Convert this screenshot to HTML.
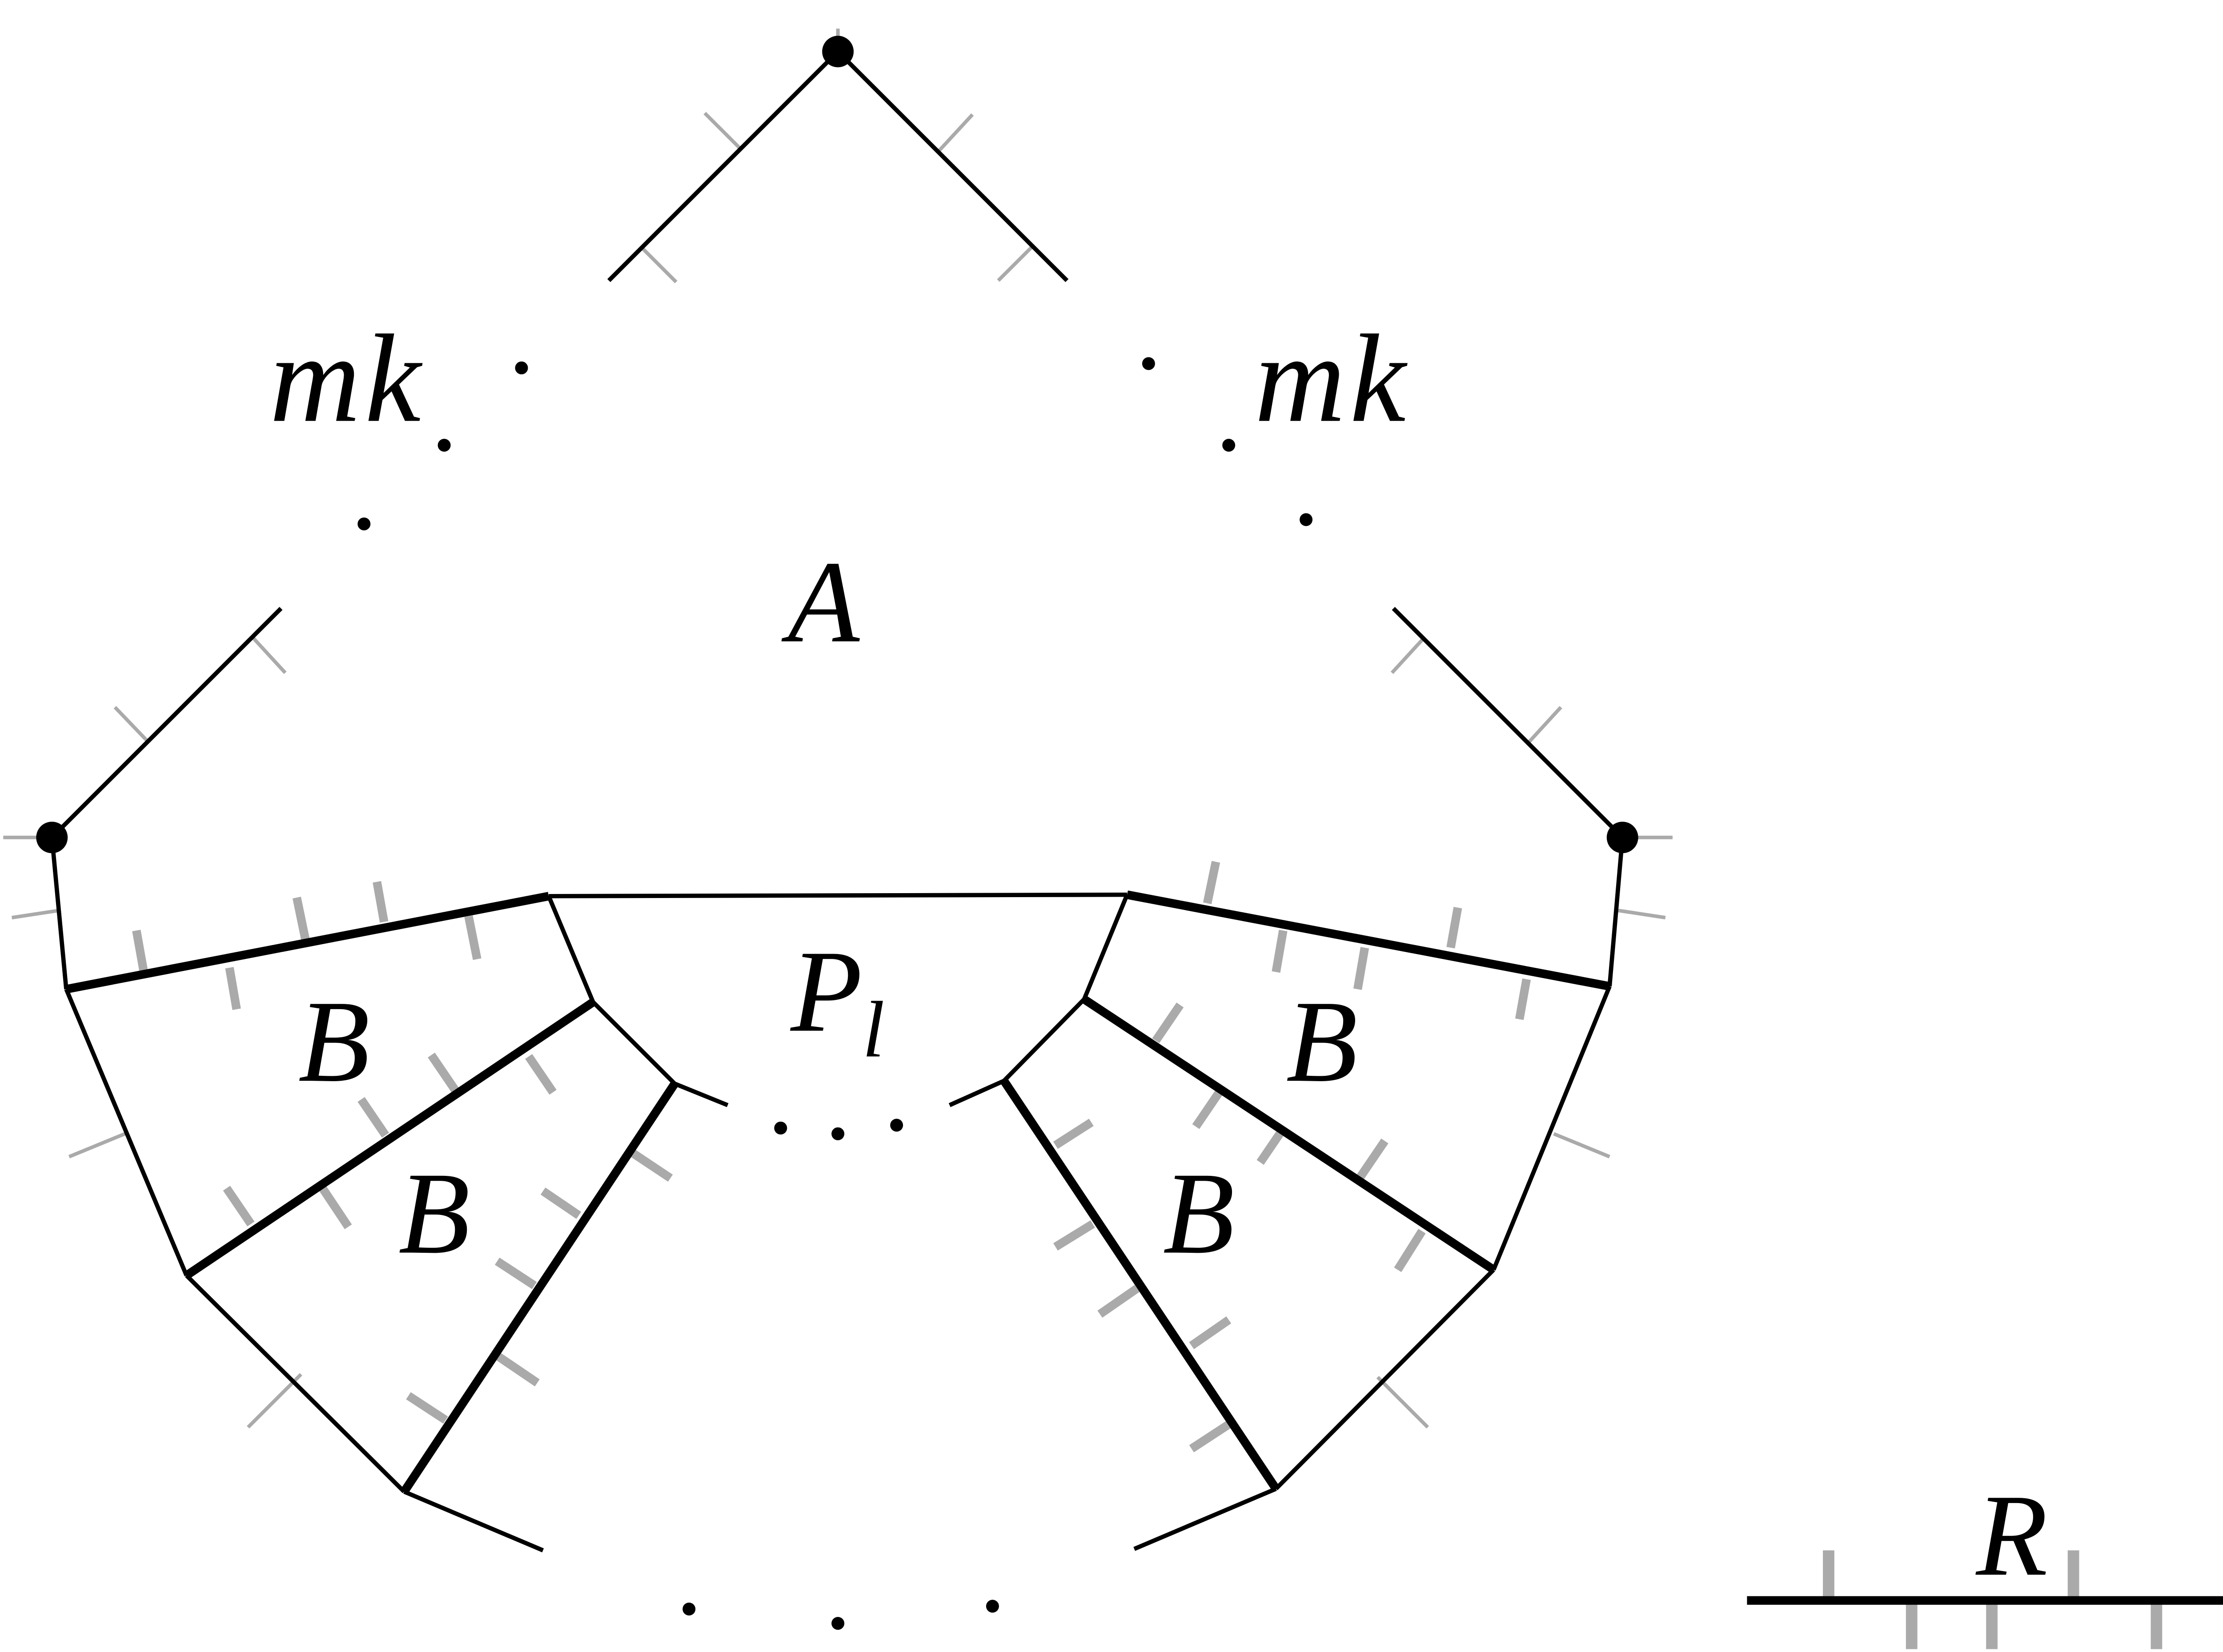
<!DOCTYPE html>
<html><head><meta charset="utf-8"><style>
html,body{margin:0;padding:0;background:#fff;}
svg{display:block;}
text{font-family:"Liberation Serif",serif;font-style:italic;fill:#000;}
</style></head><body>
<svg width="5038" height="3716" viewBox="0 0 1564 1154" xmlns="http://www.w3.org/2000/svg">
<g stroke="#aaa" stroke-width="2.5" fill="none">
<line x1="585" y1="20" x2="585" y2="36"/>
<line x1="517" y1="104" x2="492" y2="79"/>
<line x1="448" y1="173" x2="472" y2="197"/>
<line x1="655" y1="106" x2="679" y2="80"/>
<line x1="721" y1="172" x2="697" y2="196"/>
<line x1="176" y1="445" x2="199" y2="470"/>
<line x1="103" y1="518" x2="80" y2="494"/>
<line x1="994" y1="446" x2="972" y2="470"/>
<line x1="1068" y1="518" x2="1090" y2="494"/>
<line x1="2" y1="585" x2="36" y2="585"/>
<line x1="1133" y1="585" x2="1168" y2="585"/>
<line x1="8" y1="641" x2="41" y2="636"/>
<line x1="1130" y1="636" x2="1163" y2="641"/>
<line x1="48" y1="808" x2="87" y2="792"/>
<line x1="1085" y1="792" x2="1124" y2="808"/>
<line x1="173" y1="997" x2="210" y2="960"/>
<line x1="997" y1="997" x2="962" y2="962"/>
</g>
<g stroke="#aaa" stroke-width="6" fill="none">
<line x1="95" y1="650" x2="100" y2="678"/>
<line x1="160" y1="676" x2="165" y2="705"/>
<line x1="207" y1="627" x2="213" y2="656"/>
<line x1="263" y1="616" x2="268" y2="644"/>
<line x1="327" y1="640" x2="333" y2="670"/>
<line x1="849" y1="602" x2="843" y2="631"/>
<line x1="896" y1="650" x2="891" y2="679"/>
<line x1="1018" y1="634" x2="1013" y2="662"/>
<line x1="953" y1="662" x2="948" y2="691"/>
<line x1="1066" y1="684" x2="1061" y2="712"/>
<line x1="301" y1="737" x2="318" y2="762"/>
<line x1="369" y1="738" x2="386" y2="763"/>
<line x1="252" y1="768" x2="269" y2="793"/>
<line x1="225" y1="830" x2="243" y2="857"/>
<line x1="158" y1="830" x2="175" y2="855"/>
<line x1="379" y1="832" x2="404" y2="849"/>
<line x1="441" y1="805" x2="468" y2="823"/>
<line x1="347" y1="881" x2="373" y2="898"/>
<line x1="347" y1="947" x2="375" y2="966"/>
<line x1="285" y1="975" x2="311" y2="992"/>
<line x1="807" y1="727" x2="824" y2="702"/>
<line x1="835" y1="787" x2="852" y2="762"/>
<line x1="880" y1="812" x2="897" y2="787"/>
<line x1="950" y1="822" x2="967" y2="797"/>
<line x1="976" y1="887" x2="993" y2="860"/>
<line x1="737" y1="800" x2="762" y2="784"/>
<line x1="737" y1="871" x2="763" y2="855"/>
<line x1="768" y1="918" x2="794" y2="900"/>
<line x1="832" y1="940" x2="858" y2="922"/>
<line x1="832" y1="1012" x2="858" y2="995"/>
<line x1="1277" y1="1083" x2="1277" y2="1118" stroke-width="8"/>
<line x1="1448" y1="1083" x2="1448" y2="1118" stroke-width="8"/>
<line x1="1335" y1="1118" x2="1335" y2="1152" stroke-width="8"/>
<line x1="1391" y1="1118" x2="1391" y2="1152" stroke-width="8"/>
<line x1="1506" y1="1118" x2="1506" y2="1152" stroke-width="8"/>
</g>
<g stroke="#000" stroke-width="3" fill="none">
<line x1="585" y1="36" x2="425" y2="196"/>
<line x1="585" y1="36" x2="745" y2="196"/>
<line x1="196" y1="425" x2="36" y2="585"/>
<line x1="973" y1="425" x2="1133" y2="585"/>
<line x1="36" y1="585" x2="46" y2="691"/>
<line x1="383" y1="626" x2="787" y2="625"/>
<line x1="383" y1="626" x2="414" y2="700"/>
<line x1="46" y1="691" x2="130" y2="891"/>
<line x1="414" y1="700" x2="471" y2="757"/>
<line x1="471" y1="757" x2="508" y2="772"/>
<line x1="130" y1="891" x2="282" y2="1042"/>
<line x1="282" y1="1042" x2="379" y2="1083"/>
<line x1="1133" y1="585" x2="1124" y2="689"/>
<line x1="787" y1="625" x2="757" y2="698"/>
<line x1="1124" y1="689" x2="1043" y2="887"/>
<line x1="757" y1="698" x2="701" y2="755"/>
<line x1="701" y1="755" x2="663" y2="772"/>
<line x1="1043" y1="887" x2="891" y2="1040"/>
<line x1="891" y1="1040" x2="792" y2="1082"/>
</g>
<g stroke="#000" stroke-width="6" fill="none">
<line x1="46" y1="691" x2="383" y2="626"/>
<line x1="414" y1="700" x2="130" y2="891"/>
<line x1="471" y1="757" x2="282" y2="1042"/>
<line x1="787" y1="625" x2="1124" y2="689"/>
<line x1="757" y1="698" x2="1043" y2="887"/>
<line x1="701" y1="755" x2="891" y2="1040"/>
<line x1="1220" y1="1118" x2="1562" y2="1118"/>
</g>
<g fill="#000">
<circle cx="585" cy="36" r="11"/>
<circle cx="36" cy="585" r="11"/>
<circle cx="1133" cy="585" r="11"/>
</g>
<g fill="#000">
<circle cx="364" cy="257" r="4.5"/><circle cx="310" cy="311" r="4.5"/><circle cx="254" cy="366" r="4.5"/>
<circle cx="802" cy="254" r="4.5"/><circle cx="858" cy="311" r="4.5"/><circle cx="912" cy="363" r="4.5"/>
<circle cx="545" cy="788" r="4.5"/><circle cx="585" cy="792" r="4.5"/><circle cx="626" cy="786" r="4.5"/>
<circle cx="481" cy="1124" r="4.5"/><circle cx="585" cy="1134" r="4.5"/><circle cx="693" cy="1122" r="4.5"/>
</g>
<text x="188" y="294" font-size="88" letter-spacing="3">mk</text>
<text x="876" y="294" font-size="88" letter-spacing="3">mk</text>
<text x="550" y="448" font-size="82">A</text>
<text x="552" y="720" font-size="82">P<tspan font-size="56" dy="18">l</tspan></text>
<text x="208" y="755" font-size="82">B</text>
<text x="278" y="875" font-size="82">B</text>
<text x="898" y="755" font-size="82">B</text>
<text x="812" y="875" font-size="82">B</text>
<text x="1380" y="1100" font-size="82">R</text>
</svg>
</body></html>
